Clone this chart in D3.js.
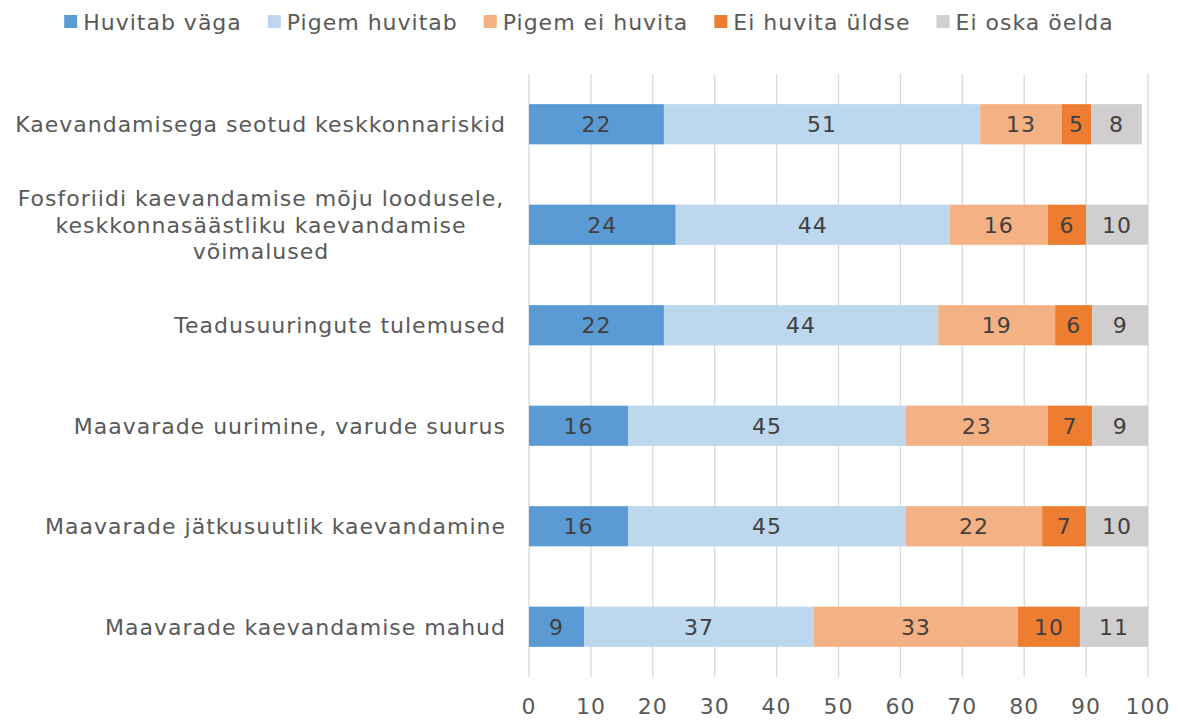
<!DOCTYPE html>
<html>
<head>
<meta charset="utf-8">
<script src="https://cdn.jsdelivr.net/npm/d3@7"></script>
<style>
  body { margin: 0; background: #fff; }
  svg { display: block; font-family: "DejaVu Sans", Verdana, sans-serif; }
  text { letter-spacing: 1px; }
</style>
</head>
<body>
<svg id="chart" width="1178" height="722"></svg>
<script>
// categories, top to bottom
const categories = [
  "Kaevandamisega seotud keskkonnariskid",
  "Fosforiidi kaevandamise mõju loodusele, keskkonnasäästliku kaevandamise võimalused",
  "Teadusuuringute tulemused",
  "Maavarade uurimine, varude suurus",
  "Maavarade jätkusuutlik kaevandamine",
  "Maavarade kaevandamise mahud"
];
// wrapped label lines per category
const categoryLines = [
  ["Kaevandamisega seotud keskkonnariskid"],
  ["Fosforiidi kaevandamise mõju loodusele,", "keskkonnasäästliku kaevandamise", "võimalused"],
  ["Teadusuuringute tulemused"],
  ["Maavarade uurimine, varude suurus"],
  ["Maavarade jätkusuutlik kaevandamine"],
  ["Maavarade kaevandamise mahud"]
];
const seriesNames = ["Huvitab väga", "Pigem huvitab", "Pigem ei huvita", "Ei huvita üldse", "Ei oska öelda"];
const seriesColors = ["#5b9bd5", "#bdd7ee", "#f4b183", "#ed7d31", "#d0cece"];

const huvitabVaga   = [21.8, 23.7, 21.8, 16.0, 16.0, 8.9];
const pigemHuvitab  = [51.1, 44.3, 44.3, 44.9, 44.9, 37.1];
const pigemEiHuvita = [13.2, 15.8, 18.9, 22.9, 22.0, 33.0];
const eiHuvitaYldse = [4.7, 6.2, 6.0, 7.2, 7.1, 10.0];
const eiOskaOelda   = [8.2, 10.0, 9.0, 9.0, 10.0, 11.0];
const xTicks = [0, 10, 20, 30, 40, 50, 60, 70, 80, 90, 100];

const rows = categories.map((c, i) => ({
  category: c,
  [seriesNames[0]]: huvitabVaga[i],
  [seriesNames[1]]: pigemHuvitab[i],
  [seriesNames[2]]: pigemEiHuvita[i],
  [seriesNames[3]]: eiHuvitaYldse[i],
  [seriesNames[4]]: eiOskaOelda[i]
}));

const svg = d3.select("#chart");
const margin = { top: 74, right: 30, bottom: 45, left: 529 };
const width = 1178;
const height = 722;
const fontSize = "22px";

const x = d3.scaleLinear().domain([0, 100]).range([margin.left, 1148]);
const y = d3.scaleBand().domain(categories).range([margin.top, height - margin.bottom]).paddingInner(0.6).paddingOuter(0.3);

// gridlines
svg.append("g")
  .selectAll("line")
  .data(xTicks)
  .join("line")
  .attr("x1", d => x(d)).attr("x2", d => x(d))
  .attr("y1", margin.top).attr("y2", height - margin.bottom)
  .attr("stroke", "#d9d9d9")
  .attr("stroke-width", 1.3);

// tick labels
svg.append("g")
  .selectAll("text")
  .data(xTicks)
  .join("text")
  .attr("x", d => x(d))
  .attr("y", 714)
  .attr("text-anchor", "middle")
  .style("fill", "#595959")
  .style("font-size", fontSize)
  .text(d => d);

const stacked = d3.stack().keys(seriesNames)(rows);

const layers = svg.append("g")
  .selectAll("g")
  .data(stacked)
  .join("g")
  .attr("fill", (d, i) => seriesColors[i]);

layers.selectAll("rect")
  .data(d => d)
  .join("rect")
  .attr("x", d => x(d[0]))
  .attr("y", d => y(d.data.category))
  .attr("width", d => x(d[1]) - x(d[0]))
  .attr("height", y.bandwidth());

// value labels
layers.selectAll("text")
  .data(d => d)
  .join("text")
  .attr("x", d => (x(d[0]) + x(d[1])) / 2)
  .attr("y", d => y(d.data.category) + y.bandwidth() / 2 + 8)
  .attr("text-anchor", "middle")
  .style("fill", "#404040")
  .style("font-size", fontSize)
  .text(d => Math.round(d[1] - d[0]));

// category labels
const catG = svg.append("g");
categories.forEach((c, i) => {
  const lines = categoryLines[i];
  const cy = y(c) + y.bandwidth() / 2;
  const lh = 26.5;
  const t = catG.append("text")
    .attr("text-anchor", lines.length > 1 ? "middle" : "end")
    .style("fill", "#595959")
    .style("font-size", fontSize);
  lines.forEach((ln, j) => {
    t.append("tspan")
      .attr("x", lines.length > 1 ? 261 : 506)
      .attr("y", cy + 8 + (j - (lines.length - 1) / 2) * lh)
      .text(ln);
  });
});

// legend
const legend = svg.append("g");
let lx = 0;
seriesNames.forEach((s, i) => {
  const g = legend.append("g");
  g.append("rect").attr("x", 0).attr("y", -7).attr("width", 13).attr("height", 13).attr("fill", seriesColors[i]);
  const t = g.append("text").attr("x", 19).attr("y", 8)
    .style("fill", "#595959").style("font-size", fontSize).text(s);
  const w = 19 + t.node().getComputedTextLength();
  g.attr("transform", `translate(${lx},22)`);
  lx += w + 26;
});
const totalW = lx - 26;
legend.attr("transform", `translate(${(width - totalW) / 2},0)`);
</script>
</body>
</html>
